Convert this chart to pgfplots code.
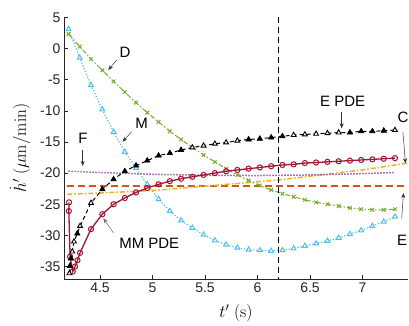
\documentclass[border=0pt]{standalone}
\usepackage[no-math]{fontspec}
\setmainfont{Liberation Sans}
\usepackage{pgfplots}
\pgfplotsset{compat=1.18}
\usepackage{pgfplotstable}
\usetikzlibrary{arrows.meta}
\definecolor{axisgray}{HTML}{262626}
\definecolor{cD}{HTML}{77AC30}
\definecolor{cM}{HTML}{4DBEEE}
\definecolor{cMM}{HTML}{A2142F}
\definecolor{cF}{HTML}{7E2F8E}
\definecolor{cE}{HTML}{D95319}
\definecolor{cC}{HTML}{EDB120}
\tikzset{
  annot/.style={font=\fontsize{15}{15}\selectfont, text=black},
  arr/.style={-{Stealth[length=5pt,width=4pt]}, line width=0.5pt, color=black!80},
}

\pgfplotstableread{
x D M
4.200 2.3 3.1
4.307 0.3 -1.5
4.414 -1.7 -5.9
4.522 -3.5 -9.8
4.629 -5.3 -13.4
4.736 -7.0 -16.6
4.843 -8.7 -19.2
4.950 -10.3 -21.8
5.058 -11.8 -24.2
5.165 -13.3 -26.1
5.272 -14.6 -27.6
5.379 -15.9 -28.8
5.486 -17.1 -29.9
5.594 -18.2 -30.8
5.701 -19.3 -31.5
5.808 -20.3 -32.0
5.915 -21.2 -32.3
6.022 -22.0 -32.4
6.130 -22.7 -32.5
6.237 -23.3 -32.4
6.344 -23.8 -32.1
6.451 -24.3 -31.7
6.558 -24.7 -31.3
6.666 -25.0 -30.9
6.773 -25.3 -30.4
6.880 -25.6 -29.8
6.987 -25.8 -29.2
7.094 -25.9 -28.5
7.202 -25.9 -27.8
7.309 -25.8 -27.0
}\tabDM

\pgfplotstableread{
x y
4.205 -24.7
4.203 -26.1
4.215 -33.4
4.240 -35.8
4.262 -35.0
4.285 -34.0
4.310 -32.8
4.414 -29.0
4.522 -26.6
4.629 -25.0
4.736 -24.0
4.843 -23.1
4.950 -22.4
5.058 -21.8
5.165 -21.3
5.272 -20.9
5.379 -20.6
5.486 -20.3
5.594 -20.0
5.701 -19.7
5.808 -19.5
5.915 -19.3
6.022 -19.1
6.130 -18.9
6.237 -18.7
6.344 -18.6
6.451 -18.4
6.558 -18.3
6.666 -18.2
6.773 -18.1
6.880 -18.0
6.987 -17.9
7.094 -17.8
7.202 -17.7
7.309 -17.6
}\tabMM

\pgfplotstableread{
x y
4.208 -36.1
4.214 -34.9
4.224 -33.7
4.236 -32.6
4.252 -31.0
4.284 -29.7
4.310 -28.5
4.414 -24.8
4.522 -22.6
4.629 -21.0
4.736 -19.7
4.843 -18.8
4.950 -18.0
5.058 -17.2
5.165 -16.8
5.272 -16.3
5.379 -15.9
5.486 -15.6
5.594 -15.3
5.701 -15.1
5.808 -14.8
5.915 -14.6
6.022 -14.5
6.130 -14.3
6.237 -14.1
6.344 -13.9
6.451 -13.8
6.558 -13.7
6.666 -13.6
6.773 -13.5
6.880 -13.5
6.987 -13.3
7.094 -13.3
7.202 -13.2
7.309 -13.1
}\tabEPDE

\begin{document}
\begin{tikzpicture}
\begin{axis}[
  scale only axis, width=344pt, height=261.7pt,
  xmin=4.157, xmax=7.433, ymin=-37, ymax=5,
  axis x line*=bottom, axis y line*=left,
  axis line style={color=axisgray, line width=0.5pt},
  tick align=inside, major tick length=3.5pt,
  tick style={color=axisgray, line width=0.5pt},
  xtick={4.5,5,5.5,6,6.5,7}, xticklabels={4.5,5,5.5,6,6.5,7},
  ytick={-35,-30,-25,-20,-15,-10,-5,0,5},
  yticklabels={-35,-30,-25,-20,-15,-10,-5,0,5},
  ticklabel style={font=\fontsize{14}{14}\selectfont, color=axisgray},
  clip=false,
]
% E (orange dashed)
\addplot[color=cE, line width=1.5pt, dash pattern=on 7pt off 4pt] coordinates {(4.19,-22.1) (7.43,-22.1)};
% C (yellow dash-dot)
\addplot[color=cC, line width=1.5pt, dash pattern=on 5pt off 2pt on 1.5pt off 2pt] coordinates {
(4.19,-23.4) (4.5,-23.2) (5.0,-22.8) (5.5,-22.1) (6.0,-21.4) (6.2,-21.1) (6.5,-20.5) (7.0,-19.5) (7.43,-18.4)};
% F (purple dotted)
\addplot[color=cF, line width=1.5pt, dash pattern=on 1.2pt off 1.8pt] coordinates {
(4.2,-19.7) (4.5,-19.9) (5.0,-20.2) (5.5,-20.35) (6.0,-20.4) (6.5,-20.3) (7.0,-20.1) (7.31,-19.9)};
% D (green dash-dot, x marks)
\addplot[color=cD, line width=1pt, dash pattern=on 5pt off 2pt on 1.5pt off 2pt,
  mark=x, mark size=2.6pt, mark options={solid, line width=1pt}] table[x=x,y=D] {\tabDM};
% M (cyan dotted, triangles)
\addplot[color=cM, line width=1.2pt, dash pattern=on 1.2pt off 1.8pt,
  mark=triangle*, mark size=2.8pt, mark options={solid, fill=white, line width=1pt}] table[x=x,y=M] {\tabDM};
% MM PDE (red solid, circles)
\addplot[color=cMM, line width=1.3pt, mark=o, mark size=2.6pt, mark options={solid, line width=1pt}] table[x=x,y=y] {\tabMM};
% E PDE (black dashed, triangles)
\addplot[color=black, line width=1pt, dash pattern=on 4pt off 3pt,
  mark=triangle*, mark size=2.8pt, mark options={solid, fill=white, line width=0.9pt}] table[x=x,y=y] {\tabEPDE};
\addplot[only marks, color=black, mark=triangle*, mark size=2.8pt, mark options={solid, fill=black},
  mark indices={2,3,6,9,10,11,12,13,14,15,16,22,23,24,25,31,32,33,34}] table[x=x,y=y] {\tabEPDE};
% vertical dashed line
\addplot[color=black, line width=1.5pt, dash pattern=on 6pt off 4pt] coordinates {(6.2,5) (6.2,-37)};

% annotations
\node[annot] at (axis cs:4.738,-0.57) {D};
\draw[arr] (axis cs:4.659,-1.85) -- (axis cs:4.579,-3.46);
\node[annot] at (axis cs:4.896,-12.01) {M};
\draw[arr] (axis cs:4.801,-13.36) -- (axis cs:4.715,-14.97);
\node[annot] at (axis cs:4.338,-14.37) {F};
\draw[arr] (axis cs:4.335,-16.3) -- (axis cs:4.335,-18.86);
\node[annot] at (axis cs:4.969,-31.27) {MM PDE};
\draw[arr, color=black!60] (axis cs:4.627,-29.57) -- (axis cs:4.532,-27.26);
\node[annot] at (axis cs:6.811,-8.55) {E PDE};
\draw[arr] (axis cs:6.801,-10.15) -- (axis cs:6.801,-12.81);
\node[annot] at (axis cs:7.385,-11.0) {C};
\draw[arr] (axis cs:7.384,-13.36) -- (axis cs:7.409,-18.43);
\node[annot] at (axis cs:7.378,-30.74) {E};
\draw[arr] (axis cs:7.373,-27.26) -- (axis cs:7.39,-23.2);
\end{axis}
\node[rotate=90, font=\fontsize{17}{17}\selectfont] at ([xshift=-44pt]current axis.west) {$\dot{h}'\ (\mu\mathrm{m/min})$};
\node[font=\fontsize{17}{17}\selectfont] at ([yshift=-34pt]current axis.south) {$t'\ (\mathrm{s})$};
\pgfresetboundingbox
\path[use as bounding box] ([shift={(-64pt,-47pt)}]current axis.south west) rectangle ([shift={(345pt,279pt)}]current axis.south west);
\end{tikzpicture}
\end{document}
